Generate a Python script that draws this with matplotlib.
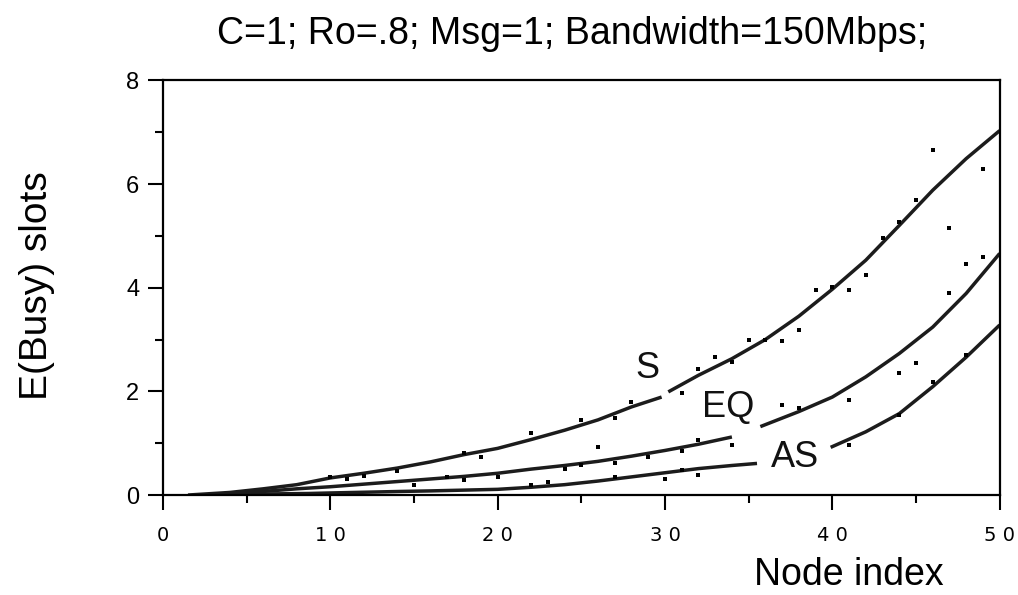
import matplotlib
matplotlib.use("Agg")
import matplotlib.pyplot as plt
from matplotlib.ticker import MultipleLocator

plt.rcParams['font.family'] = ['Liberation Sans', 'DejaVu Sans']

# ---- data ----
title = "C=1; Ro=.8; Msg=1; Bandwidth=150Mbps;"
x_label = "Node index"
y_label = "E(Busy) slots"
x_ticks = [0, 10, 20, 30, 40, 50]
x_tick_labels = ["0", "1 0", "2 0", "3 0", "4 0", "5 0"]
y_ticks = [0, 2, 4, 6, 8]
y_tick_labels = ["0", "2", "4", "6", "8"]

# analytic curves (each split in two where the curve label sits)
s_x1 = [1.5, 4, 6, 8, 10, 12, 14, 16, 18, 20, 22, 24, 26, 28, 29.8]
s_y1 = [0.0, 0.05, 0.12, 0.20, 0.33, 0.42, 0.52, 0.64, 0.78, 0.90, 1.07, 1.25, 1.45, 1.70, 1.89]
s_x2 = [30.2, 32, 34, 36, 38, 40, 42, 44, 46, 48, 50]
s_y2 = [1.99, 2.31, 2.63, 3.00, 3.45, 3.97, 4.53, 5.20, 5.88, 6.49, 7.03]

eq_x1 = [2.5, 4, 6, 8, 10, 12, 14, 16, 18, 20, 22, 24, 26, 28, 30, 32, 34]
eq_y1 = [0.0, 0.03, 0.07, 0.12, 0.16, 0.21, 0.26, 0.31, 0.36, 0.42, 0.50, 0.57, 0.65, 0.75, 0.86, 0.98, 1.12]
eq_x2 = [35.7, 38, 40, 42, 44, 46, 48, 50]
eq_y2 = [1.32, 1.61, 1.89, 2.28, 2.73, 3.24, 3.89, 4.66]

as_x1 = [2, 6, 8.7, 10, 14.3, 16, 20, 22, 24, 26, 28, 30, 32, 34, 35.5]
as_y1 = [0.0, 0.02, 0.03, 0.04, 0.07, 0.08, 0.11, 0.15, 0.20, 0.27, 0.35, 0.43, 0.51, 0.57, 0.61]
as_x2 = [39.9, 42, 44, 46, 48, 50]
as_y2 = [0.92, 1.22, 1.57, 2.09, 2.66, 3.28]

# simulation points
s_dx = [10, 11, 12, 14, 18, 19, 22, 25, 27, 28, 31, 32, 33, 34, 35, 36, 37, 38, 39, 40, 41, 42, 43, 44, 45, 46, 47, 49]
s_dy = [0.35, 0.30, 0.37, 0.46, 0.81, 0.74, 1.19, 1.45, 1.48, 1.80, 1.96, 2.44, 2.67, 2.57, 2.99, 2.99, 2.97, 3.18,
        3.95, 4.02, 3.95, 4.24, 4.95, 5.26, 5.69, 6.65, 5.16, 6.28]
eq_dx = [15, 17, 18, 20, 24, 25, 26, 27, 29, 31, 32, 34, 37, 38, 41, 44, 45, 47, 48, 49]
eq_dy = [0.20, 0.35, 0.29, 0.35, 0.51, 0.58, 0.93, 0.61, 0.74, 0.84, 1.07, 0.96, 1.74, 1.67, 1.83, 2.35, 2.55,
         3.89, 4.45, 4.59]
as_dx = [22, 23, 27, 30, 31, 32, 41, 44, 46, 48]
as_dy = [0.20, 0.26, 0.34, 0.30, 0.48, 0.39, 0.96, 1.54, 2.19, 2.70]

labels = ["S", "EQ", "AS"]
label_x = [28.97, 33.75, 37.75]
label_y = [2.45, 1.68, 0.73]

# ---- figure ----
fig = plt.figure(figsize=(10.18, 5.95), dpi=100)
ax = fig.add_axes([0.160, 0.168, 0.822, 0.697])

line_kw = dict(color='#1c1c1c', lw=2.5, solid_capstyle='butt')
for xs, ys in [(s_x1, s_y1), (s_x2, s_y2), (eq_x1, eq_y1), (eq_x2, eq_y2), (as_x1, as_y1), (as_x2, as_y2)]:
    ax.plot(xs, ys, **line_kw)

dot_kw = dict(ls='none', marker='s', ms=3.0, color='black', mew=0)
ax.plot(s_dx, s_dy, **dot_kw)
ax.plot(eq_dx, eq_dy, **dot_kw)
ax.plot(as_dx, as_dy, **dot_kw)

for t, lx, ly in zip(labels, label_x, label_y):
    ax.text(lx, ly, t, fontsize=26, ha='center', va='center', color='#111111')

ax.set_xlim(0, 50)
ax.set_ylim(0, 8)
ax.set_xticks(x_ticks)
ax.set_xticklabels(x_tick_labels, fontsize=14, family='DejaVu Sans')
ax.set_yticks(y_ticks)
ax.set_yticklabels(y_tick_labels, fontsize=17)
ax.xaxis.set_minor_locator(MultipleLocator(5))
ax.yaxis.set_minor_locator(MultipleLocator(1))
ax.tick_params(axis='x', which='major', direction='out', length=11, width=1.5, pad=11)
ax.tick_params(axis='x', which='minor', direction='out', length=6, width=1.5)
ax.tick_params(axis='y', which='major', direction='out', length=11, width=1.5, pad=6)
ax.tick_params(axis='y', which='minor', direction='out', length=6, width=1.5)
for sp in ax.spines.values():
    sp.set_linewidth(1.6)
    sp.set_color('black')

fig.text(0.562, 0.926, title, fontsize=27, ha='center', va='baseline')
fig.text(0.036, 0.52, y_label, fontsize=28, rotation=90, ha='center', va='center')
fig.text(0.834, 0.004, x_label, fontsize=27, ha='center', va='bottom')

fig.savefig("out.png", dpi=100)
